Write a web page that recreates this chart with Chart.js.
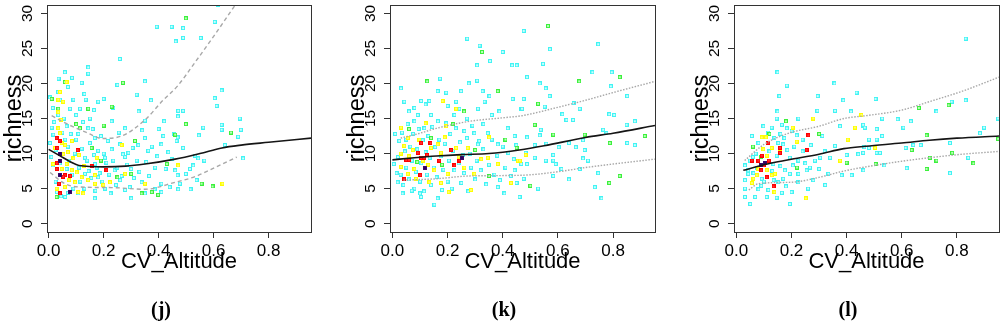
<!DOCTYPE html>
<html><head><meta charset="utf-8">
<script src="https://cdn.jsdelivr.net/npm/chart.js@4.4.1/dist/chart.umd.min.js"></script>
<style>
html,body{margin:0;padding:0;background:#fff;overflow:hidden;width:1000px;height:323px;position:relative}
.panel{position:absolute;top:0;width:322px;height:323px}
.lab{position:absolute;top:299px;width:60px;margin-left:-30px;text-align:center;font:bold 20px "Liberation Serif","Times New Roman",serif;line-height:20px;color:#000}
</style></head><body>
<div class="panel" style="left:0px"><canvas id="cj" width="322" height="323"></canvas></div>
<div class="panel" style="left:343px"><canvas id="ck" width="322" height="323"></canvas></div>
<div class="panel" style="left:687px"><canvas id="cl" width="322" height="323"></canvas></div>
<div class="lab" style="left:161px">(j)</div>
<div class="lab" style="left:504px">(k)</div>
<div class="lab" style="left:848px">(l)</div>
<script>
// ---------- tick labels ----------
const xTicks = [0, 0.2, 0.4, 0.6, 0.8];
const yTicks = [0, 5, 10, 15, 20, 25, 30];
const xTitle = 'CV_Altitude';
const yTitle = 'richness';

// ---------- panel (j) ----------
const jMean  = [[0.0,10.6],[0.04,9.7],[0.08,8.8],[0.11,8.3],[0.2,8.1],[0.28,8.2],[0.35,8.5],[0.46,9.2],[0.55,10.0],[0.63,10.8],[0.7,11.2],[0.8,11.6],[0.954,12.2]];
const jUpper = [[0.011,15.4],[0.084,13.9],[0.144,12.9],[0.193,12.15],[0.265,12.5],[0.35,14.8],[0.416,17.6],[0.47,19.7],[0.532,23.0],[0.605,27.0],[0.68,31.3]];
const jLower = [[0.005,7.3],[0.059,5.7],[0.108,5.23],[0.229,5.14],[0.35,4.9],[0.46,5.9],[0.532,6.7],[0.605,8.0],[0.684,9.5]];
const jCyan = [[0.393,28.1],[0.447,28.1],[0.462,26.0],[0.259,23.5],[0.144,22.3],[0.059,21.6],[0.036,20.7],[0.12,20.1],[0.144,21.4],[0.35,20.3],[0.25,19.8],[0.32,18.4],[0.035,18.8],[0.041,17.7],[0.09,17.7],[0.135,17.7],[0.18,17.4],[0.235,16.5],[0.372,17.6],[0.078,16.4],[0.114,16.4],[0.327,16.0],[0.011,13.7],[0.065,13.9],[0.15,15.0],[0.229,14.6],[0.35,14.7],[0.42,14.6],[0.47,15.3],[0.278,13.6],[0.144,13.6],[0.168,12.2],[0.35,12.2],[0.417,12.5],[0.017,12.7],[0.108,12.8],[0.26,11.3],[0.326,11.2],[0.41,11.3],[0.465,11.8],[0.18,10.4],[0.229,10.6],[0.29,10.1],[0.362,10.4],[0.132,9.4],[0.205,9.4],[0.278,9.5],[0.447,9.2],[0.168,8.5],[0.24,7.6],[0.3,7.8],[0.387,8.0],[0.46,7.6],[0.132,7.1],[0.18,6.6],[0.26,6.2],[0.338,5.9],[0.41,5.7],[0.205,5.0],[0.278,4.8],[0.35,4.3],[0.41,4.5],[0.168,3.6],[0.3,3.6],[0.108,4.3],[0.06,3.8],
 [0.614,31.2],[0.604,28.8],[0.489,27.9],[0.489,26.5],[0.553,26.5],[0.629,19.0],[0.604,17.9],[0.611,16.8],[0.471,16.1],[0.489,16.1],[0.695,15.0],[0.562,13.7],[0.629,14.1],[0.629,13.4],[0.699,13.4],[0.469,12.3],[0.546,12.6],[0.689,12.4],[0.641,11.2],[0.489,10.8],[0.532,9.7],[0.544,9.3],[0.707,9.3],[0.566,9.0],[0.526,8.3],[0.514,7.8],[0.469,6.9],[0.499,7.1],[0.538,6.2],[0.477,5.7],[0.471,4.9],[0.516,4.9],
 [0.005,11.5],[0.01,9.5],[0.015,8.3],[0.02,14.5],[0.025,6.0],[0.05,13.0],[0.055,15.0],[0.06,12.0],[0.07,11.0],[0.075,9.0],[0.085,7.0],[0.09,5.0],[0.095,10.0],[0.1,12.0],[0.11,8.0],[0.115,6.0],[0.12,10.7],[0.125,14.5],[0.13,5.0],[0.14,9.0],[0.145,7.5],[0.15,11.5],[0.155,6.5],[0.16,13.5],[0.165,9.8],[0.17,4.7],[0.175,8.0],[0.185,7.2],[0.19,12.5],[0.195,6.0],[0.2,10.0],[0.21,8.7],[0.215,11.8],[0.22,7.0],[0.225,4.3],[0.235,9.0],[0.245,5.5],[0.25,8.0],[0.255,13.0],[0.265,6.8],[0.27,9.9],[0.285,8.4],[0.295,5.2],[0.305,10.8],[0.31,6.5],[0.32,9.0],[0.33,7.4],[0.34,13.3],[0.355,8.8],[0.365,6.8],[0.375,11.0],[0.385,4.9],[0.395,9.6],[0.4,13.5],[0.425,7.8],[0.435,10.2],[0.44,5.2],[0.455,12.8],[0.03,4.5],[0.045,3.9],[0.07,4.4],[0.08,12.8],[0.1,15.5],[0.035,15.5],[0.025,10.5],[0.04,8.6],[0.065,7.8],[0.015,16.5],[0.005,18.0],[0.07,19.5],[0.085,20.8],[0.13,18.5],[0.2,17.8],[0.165,16.2]];
const jGreen = [[0.011,17.8],[0.059,20.2],[0.144,16.4],[0.229,16.7],[0.114,13.6],[0.156,10.8],[0.3,7.1],[0.338,4.3],[0.398,4.1],[0.375,4.5],[0.029,3.8],[0.499,29.3],[0.499,14.2],[0.663,13.0],[0.556,5.7],[0.596,5.3],[0.314,11.8],[0.19,9.0],[0.25,6.6],[0.1,14.2],[0.035,16.4],[0.27,20.1],[0.46,12.7],[0.43,8.5],[0.2,14.0]];
const jYellow = [[0.035,13.6],[0.041,12.9],[0.047,11.5],[0.023,10.8],[0.053,9.9],[0.017,8.5],[0.047,7.8],[0.065,8.5],[0.084,7.6],[0.102,7.3],[0.12,6.6],[0.144,6.2],[0.168,6.9],[0.096,5.9],[0.059,5.2],[0.029,5.0],[0.108,4.5],[0.168,5.7],[0.223,5.9],[0.053,17.4],[0.041,18.8],[0.035,17.7],[0.065,20.2],[0.126,4.3],[0.199,5.5],[0.278,7.1],[0.35,5.7],[0.175,9.4],[0.265,11.2],[0.471,8.3],[0.632,5.7],[0.07,10.2],[0.09,9.3],[0.13,8.2],[0.075,6.2],[0.045,14.8],[0.035,15.9],[0.11,9.8],[0.06,11.2],[0.085,11.8]];
const jRed = [[0.029,12.2],[0.031,10.8],[0.029,7.8],[0.059,6.9],[0.078,6.8],[0.038,5.7],[0.041,4.3],[0.156,8.2],[0.105,10.5],[0.053,6.7],[0.21,7.6],[0.04,11.8],[0.03,8.6]];
const jPurple = [[0.041,9.0],[0.041,6.9],[0.078,4.5],[0.04,10.0]];

// ---------- panel (k) ----------
const kMean  = [[0.0,9.1],[0.08,9.4],[0.16,9.65],[0.25,9.85],[0.35,10.0],[0.46,10.5],[0.55,11.1],[0.7,12.3],[0.8,12.9],[0.952,14.0]];
const kUpper = [[0.03,12.2],[0.1,12.9],[0.16,13.6],[0.28,14.6],[0.4,15.1],[0.47,15.4],[0.6,16.6],[0.7,17.6],[0.8,18.7],[0.952,20.3]];
const kLower = [[0.04,6.2],[0.16,6.4],[0.28,6.8],[0.47,6.9],[0.6,7.4],[0.7,8.0],[0.8,8.5],[0.952,9.2]];
const kCyan = [[0.271,26.4],[0.316,25.4],[0.4,24.5],[0.307,22.6],[0.354,23.2],[0.434,22.6],[0.451,22.6],[0.173,20.7],[0.277,20.0],[0.307,20.4],[0.031,19.3],[0.164,18.9],[0.195,18.7],[0.249,18.9],[0.327,18.9],[0.104,17.5],[0.134,17.5],[0.043,17.4],[0.08,16.5],[0.231,17.4],[0.243,16.4],[0.334,17.4],[0.352,18.2],[0.436,17.8],[0.31,16.4],[0.388,16.0],[0.467,16.4],[0.092,15.5],[0.14,15.5],[0.225,15.5],[0.165,14.6],[0.08,14.6],[0.116,13.6],[0.261,13.2],[0.297,12.9],[0.346,12.9],[0.418,13.6],[0.443,12.5],[0.382,11.3],[0.449,11.2],[0.31,11.3],[0.152,2.7],[0.164,3.6],[0.104,3.8],[0.037,4.3],[0.406,4.3],[0.461,3.8],[0.382,5.2],[0.443,7.6],[0.467,8.5],[0.019,5.9],[0.005,8.5],
 [0.476,27.5],[0.571,24.9],[0.746,25.6],[0.546,22.8],[0.725,21.6],[0.795,21.6],[0.488,20.9],[0.534,20.0],[0.556,19.3],[0.792,19.6],[0.476,17.8],[0.57,18.2],[0.657,17.2],[0.851,18.2],[0.47,16.4],[0.552,16.7],[0.679,16.4],[0.616,15.6],[0.786,15.6],[0.804,15.5],[0.631,14.8],[0.655,14.8],[0.879,14.6],[0.538,13.4],[0.764,13.4],[0.776,12.9],[0.849,14.1],[0.488,12.3],[0.534,12.6],[0.64,11.5],[0.691,11.9],[0.851,11.5],[0.879,11.2],[0.516,11.2],[0.558,11.4],[0.603,10.9],[0.665,10.9],[0.697,10.5],[0.483,10.1],[0.583,9.8],[0.691,9.3],[0.516,9.4],[0.556,9.0],[0.583,9.0],[0.709,9.0],[0.488,8.5],[0.592,8.5],[0.679,7.8],[0.746,7.2],[0.613,7.8],[0.583,6.8],[0.64,6.3],[0.476,6.4],[0.734,5.2],[0.528,5.0],[0.758,3.6],
 [0.02,9.5],[0.025,11.8],[0.03,7.0],[0.035,13.0],[0.04,5.5],[0.045,10.3],[0.05,8.0],[0.055,14.2],[0.06,6.3],[0.065,11.0],[0.07,9.0],[0.075,12.8],[0.08,5.0],[0.085,7.4],[0.09,10.6],[0.095,13.5],[0.1,6.0],[0.105,8.6],[0.11,11.9],[0.115,4.6],[0.12,10.2],[0.125,7.0],[0.13,12.5],[0.135,9.4],[0.14,5.5],[0.145,13.8],[0.15,8.0],[0.155,10.9],[0.16,6.6],[0.17,12.0],[0.175,9.6],[0.18,4.8],[0.185,7.7],[0.19,11.4],[0.195,14.3],[0.2,6.0],[0.205,9.0],[0.21,12.8],[0.215,5.0],[0.22,10.4],[0.225,7.6],[0.23,13.6],[0.24,8.6],[0.245,11.6],[0.25,5.8],[0.255,9.8],[0.26,7.2],[0.27,12.2],[0.275,4.6],[0.28,10.0],[0.285,8.0],[0.29,14.0],[0.3,6.3],[0.305,9.0],[0.315,11.8],[0.32,7.6],[0.33,10.6],[0.34,5.6],[0.35,8.4],[0.36,12.0],[0.37,7.0],[0.38,9.7],[0.39,6.2],[0.4,11.0],[0.41,8.0],[0.42,10.1],[0.43,6.8],[0.44,9.2],[0.45,5.8],[0.06,16.0],[0.12,17.0],[0.2,16.8],[0.27,15.0],[0.33,14.2],[0.36,15.5],[0.01,12.8],[0.015,7.2],[0.05,12.0],[0.1,4.3],[0.07,4.7]];
const kGreen = [[0.325,24.5],[0.126,20.3],[0.382,18.9],[0.564,28.2],[0.677,20.3],[0.824,20.9],[0.528,17.1],[0.516,14.1],[0.583,12.7],[0.697,12.7],[0.915,12.5],[0.788,11.5],[0.824,6.8],[0.786,5.8],[0.5,5.4],[0.06,13.5],[0.14,12.2],[0.22,14.2],[0.3,10.5],[0.18,8.4],[0.35,6.8],[0.41,12.0],[0.09,8.8],[0.26,16.0],[0.45,10.8]];
const kYellow = [[0.182,17.5],[0.031,13.7],[0.056,12.2],[0.195,13.9],[0.231,16.4],[0.231,10.8],[0.043,11.1],[0.074,10.5],[0.14,10.8],[0.176,10.1],[0.031,8.1],[0.08,7.8],[0.152,7.6],[0.2,7.1],[0.134,5.9],[0.176,5.8],[0.204,4.5],[0.285,4.8],[0.297,7.1],[0.346,9.4],[0.382,8.5],[0.43,5.8],[0.455,9.0],[0.056,7.1],[0.098,12.0],[0.164,11.3],[0.273,10.8],[0.322,9.2],[0.261,8.0],[0.483,9.8],[0.462,9.0],[0.11,9.0],[0.06,9.6],[0.13,8.4],[0.24,9.5],[0.03,10.0],[0.085,6.4],[0.19,12.3],[0.12,14.3],[0.35,12.3]];
const kRed = [[0.104,11.5],[0.138,11.5],[0.213,10.5],[0.092,10.1],[0.126,9.8],[0.05,9.1],[0.104,9.4],[0.17,9.0],[0.243,9.0],[0.043,6.4],[0.101,6.9],[0.225,8.3],[0.06,9.1],[0.115,9.4]];
const kPurple = [[0.118,7.9],[0.251,9.4]];

// ---------- panel (l) ----------
const lMean  = [[0.025,7.6],[0.1,8.4],[0.19,9.1],[0.3,9.9],[0.39,10.7],[0.47,11.05],[0.6,11.5],[0.7,11.9],[0.8,12.2],[0.953,12.5]];
const lUpper = [[0.03,9.0],[0.1,11.3],[0.19,12.9],[0.3,13.9],[0.39,15.0],[0.47,15.4],[0.6,16.2],[0.7,17.4],[0.82,18.9],[0.953,20.9]];
const lLower = [[0.045,4.8],[0.08,5.7],[0.2,5.9],[0.3,6.6],[0.39,7.5],[0.47,8.1],[0.6,8.9],[0.7,9.4],[0.82,9.9],[0.953,10.3]];
const lCyan = [[0.149,21.6],[0.183,19.7],[0.356,20.0],[0.436,18.7],[0.295,18.2],[0.156,18.2],[0.388,17.6],[0.149,16.0],[0.294,16.1],[0.358,16.1],[0.416,16.0],[0.225,15.0],[0.146,15.0],[0.098,13.9],[0.128,13.7],[0.165,14.1],[0.183,13.6],[0.312,12.5],[0.376,13.9],[0.461,14.0],[0.056,12.5],[0.138,12.2],[0.174,12.2],[0.219,12.6],[0.152,11.5],[0.17,11.3],[0.358,11.1],[0.4,9.8],[0.442,9.9],[0.146,9.7],[0.134,8.5],[0.194,9.4],[0.225,9.0],[0.304,9.4],[0.34,9.4],[0.267,8.0],[0.285,9.0],[0.031,8.3],[0.043,7.6],[0.062,7.2],[0.176,7.6],[0.225,7.1],[0.092,6.4],[0.152,5.9],[0.194,7.1],[0.255,7.6],[0.334,7.1],[0.382,6.9],[0.418,6.9],[0.461,7.6],[0.08,4.9],[0.116,4.8],[0.165,4.4],[0.2,4.5],[0.031,3.8],[0.068,3.8],[0.11,3.8],[0.146,3.7],[0.05,2.8],[0.194,2.8],[0.043,7.1],[0.031,6.2],[0.031,5.0],[0.225,5.9],[0.279,6.2],[0.322,5.5],
 [0.832,26.4],[0.505,17.8],[0.781,17.4],[0.832,17.6],[0.726,16.0],[0.46,14.1],[0.529,15.0],[0.585,14.9],[0.633,14.6],[0.606,13.7],[0.466,13.7],[0.509,13.5],[0.884,12.9],[0.899,13.7],[0.95,15.0],[0.481,12.0],[0.509,12.0],[0.529,12.5],[0.464,10.9],[0.481,10.8],[0.614,10.8],[0.642,11.2],[0.669,11.2],[0.775,11.5],[0.46,10.1],[0.509,10.1],[0.521,10.1],[0.841,9.4],[0.537,8.3],[0.618,7.9],[0.775,7.2],
 [0.07,10.0],[0.08,11.5],[0.12,10.3],[0.13,7.5],[0.16,8.2],[0.17,6.4],[0.185,10.5],[0.205,8.3],[0.21,11.0],[0.24,10.3],[0.25,8.6],[0.06,9.5],[0.075,8.0],[0.1,6.0],[0.115,13.0],[0.135,6.2],[0.16,12.8],[0.18,5.3],[0.09,5.4],[0.05,9.0],[0.2,13.2],[0.24,12.0],[0.27,11.2],[0.3,7.8],[0.32,10.3],[0.26,5.0]];
const lGreen = [[0.662,16.5],[0.69,12.6],[0.95,12.1],[0.636,10.5],[0.783,10.1],[0.702,9.4],[0.726,9.0],[0.505,8.5],[0.69,7.8],[0.12,12.8],[0.22,8.0],[0.18,14.6],[0.09,9.5],[0.3,12.8],[0.06,11.0],[0.4,8.7],[0.77,16.9],[0.86,8.6]];
const lYellow = [[0.204,13.7],[0.279,15.0],[0.43,13.7],[0.092,12.3],[0.107,12.3],[0.219,11.7],[0.404,12.0],[0.098,10.6],[0.128,10.8],[0.11,9.7],[0.376,9.0],[0.11,7.6],[0.14,7.1],[0.074,6.9],[0.128,6.9],[0.062,6.4],[0.056,5.8],[0.138,4.5],[0.252,3.6],[0.503,10.8],[0.454,15.5],[0.08,7.8],[0.12,8.8],[0.16,10.2]];
const lRed = [[0.261,12.6],[0.116,11.5],[0.255,10.5],[0.158,10.8],[0.158,10.1],[0.092,9.7],[0.056,9.0],[0.08,9.0],[0.118,9.0],[0.09,7.6],[0.11,6.6],[0.135,5.3],[0.1,8.3]];
const lPurple = [[0.104,8.6],[0.09,8.3]];

// ---------- styling helpers ----------
function glyph(ring, inner) {
  const c = document.createElement('canvas');
  c.width = 4; c.height = 4;
  const g = c.getContext('2d');
  g.fillStyle = ring; g.fillRect(0, 0, 4, 4);
  g.fillStyle = inner; g.fillRect(1, 1, 2, 2);
  return c;
}
const G = {
  cyan: glyph('#40f4f4', '#c8ffff'),
  green: glyph('#3cf03c', '#b8ffb8'),
  yellow: glyph('#ffff00', '#ffff70'),
  red: glyph('#ff0000', '#ff3030'),
  purple: glyph('#3a0a6a', '#2a0060')
};
const SANS = '"Liberation Sans", Arial, Helvetica, sans-serif';

const boxPlugin = {
  id: 'box',
  afterDraw(chart) {
    const a = chart.chartArea, c = chart.ctx;
    c.save();
    c.strokeStyle = '#333';
    c.lineWidth = 1;
    c.strokeRect(Math.round(a.left) + 0.5, Math.round(a.top) + 0.5, Math.round(a.right - a.left), Math.round(a.bottom - a.top));
    c.restore();
  }
};

function lineDs(data, color, width, dash) {
  return { type: 'scatter', data, showLine: true, borderColor: color, borderWidth: width, borderDash: dash,
           pointRadius: 0, fill: false, cubicInterpolationMode: 'monotone', order: 0 };
}
function ptsDs(data, img, order) {
  return { type: 'scatter', data, pointStyle: img, pointRadius: 2, order, showLine: false };
}

function makeChart(id, p) {
  new Chart(document.getElementById(id), {
    type: 'scatter',
    data: { datasets: [
      lineDs(p.mean, '#151515', 1.6, []),
      lineDs(p.upper, '#a8a8a8', 1.4, p.dash),
      lineDs(p.lower, '#a8a8a8', 1.4, p.dash),
      ptsDs(p.purple, G.purple, 1),
      ptsDs(p.red, G.red, 2),
      ptsDs(p.yellow, G.yellow, 3),
      ptsDs(p.green, G.green, 4),
      ptsDs(p.cyan, G.cyan, 5)
    ]},
    options: {
      responsive: false, animation: false, events: [],
      layout: { padding: { left: 0, right: p.padRight, top: 1, bottom: 0 } },
      plugins: { legend: { display: false }, tooltip: { enabled: false } },
      scales: {
        x: {
          type: 'linear', min: p.xmin, max: p.xmax,
          afterBuildTicks: s => { s.ticks = xTicks.map(v => ({ value: v })); },
          afterFit: s => { s.height = 91; s.paddingLeft = 0; s.paddingRight = 0; },
          grid: { display: true, drawOnChartArea: false, drawTicks: true, tickLength: 6, color: '#333' },
          border: { display: false },
          ticks: { color: '#000', font: { family: SANS, size: 17 }, padding: 3, maxRotation: 0, minRotation: 0,
                   callback: v => Number(v).toFixed(1) },
          title: { display: true, text: xTitle, color: '#000', font: { family: SANS, size: 22 },
                   padding: { top: 0, bottom: 47.5 } }
        },
        y: {
          type: 'linear', min: -1.2, max: 31.2,
          afterBuildTicks: s => { s.ticks = yTicks.map(v => ({ value: v })); },
          afterFit: s => { s.width = 47; s.paddingTop = 0; s.paddingBottom = 0; },
          grid: { display: true, drawOnChartArea: false, drawTicks: true, tickLength: 6, color: '#333' },
          border: { display: false },
          ticks: { color: '#000', font: { family: SANS, size: 15.5 }, padding: 5, minRotation: 90, maxRotation: 90,
                   crossAlign: 'center', callback: v => String(v) },
          title: { display: true, text: yTitle, color: '#000', font: { family: SANS, size: 23.5 },
                   padding: { top: 0, bottom: 0 } }
        }
      }
    },
    plugins: [boxPlugin]
  });
}

makeChart('cj', { mean: jMean, upper: jUpper, lower: jLower, cyan: jCyan, green: jGreen, yellow: jYellow, red: jRed, purple: jPurple,
                  dash: [4, 3], padRight: 11, xmin: -0.006, xmax: 0.954 });
makeChart('ck', { mean: kMean, upper: kUpper, lower: kLower, cyan: kCyan, green: kGreen, yellow: kYellow, red: kRed, purple: kPurple,
                  dash: [1.5, 1.5], padRight: 10, xmin: -0.0087, xmax: 0.952 });
makeChart('cl', { mean: lMean, upper: lUpper, lower: lLower, cyan: lCyan, green: lGreen, yellow: lYellow, red: lRed, purple: lPurple,
                  dash: [1.5, 1.5], padRight: 10, xmin: -0.0087, xmax: 0.953 });
</script>
</body></html>
